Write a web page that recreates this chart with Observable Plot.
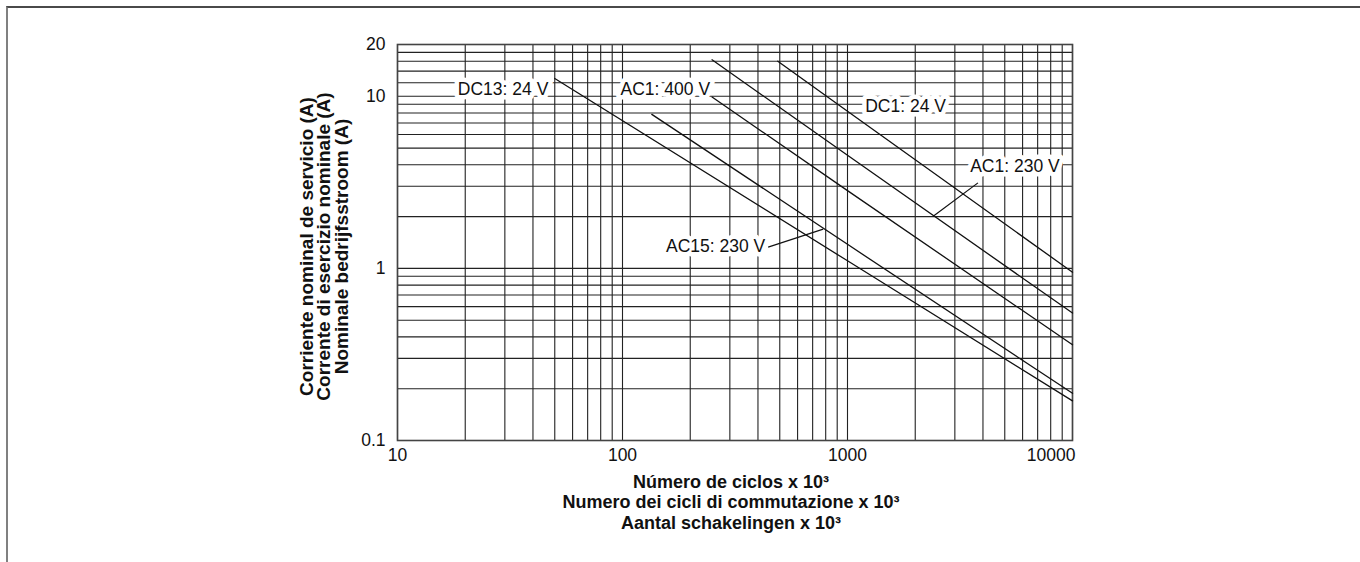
<!DOCTYPE html>
<html><head><meta charset="utf-8">
<script src="https://cdn.jsdelivr.net/npm/d3@7"></script>
<script src="https://cdn.jsdelivr.net/npm/@observablehq/plot@0.6"></script>
<style>
html,body{margin:0;padding:0;background:#fff;}
#wrap{position:relative;width:1360px;height:562px;overflow:hidden;}
#frame{position:absolute;left:6px;top:6px;right:-4px;bottom:-4px;border-top:2px solid #4a4a4a;border-left:2px solid #808080;}
#chart{position:absolute;left:0;top:0;}
g[aria-label="ytitle"] text{letter-spacing:1.3px;}
</style></head><body>
<div id="wrap"><div id="frame"></div><div id="chart"></div></div>
<script>
// Series (cycles x10^3 vs current A)
const seriesNames = ["DC13: 24 V", "AC15: 230 V", "AC1: 400 V", "AC1: 230 V", "DC1: 24 V"];
const seriesCycles = [[50, 1000, 10000], [135, 1000, 10000], [250, 1000, 10000], [250, 1000, 10000], [490, 1000, 10000]];
const seriesCurrent = [[12.7, 1.107, 0.17], [7.85, 1.38, 0.188], [9.9, 2.83, 0.36], [16.3, 4.54, 0.55], [16.0, 8.18, 0.95]];

// Annotation labels
const labelTexts = ["DC13: 24 V", "AC1: 400 V", "DC1: 24 V", "AC1: 230 V", "AC15: 230 V"];
const labelCycles = [46.8, 245, 1199, 3510, 431];
const labelCurrent = [10.9, 10.9, 8.7, 3.9, 1.35];
const labelAnchor = ["end", "end", "start", "start", "end"];

// Leader lines
const leaderFromCycles = [3800, 444];
const leaderFromCurrent = [3.14, 1.33];
const leaderToCycles = [2404, 780];
const leaderToCurrent = [2.01, 1.69];

// Axis ticks and grid
const xTickLabels = [10, 100, 1000];
const xTickLast = [10000];
const yTickLabels = [0.1, 1, 10, 20];
const xGrid = [10,20,30,40,50,60,70,80,90,100,200,300,400,500,600,700,800,900,1000,2000,3000,4000,5000,6000,7000,8000,9000,10000];
const yGrid = [0.1,0.2,0.3,0.4,0.5,0.6,0.7,0.8,0.9,1,2,3,4,5,6,7,8,9,10,12,14,16,18,20];

const xTitleLines = ["Número de ciclos x 10³", "Numero dei cicli di commutazione x 10³", "Aantal schakelingen x 10³"];
const yTitleLines = ["Corriente nominal de servicio (A)", "Corrente di esercizio nominale (A)", "Nominale bedrijfsstroom (A)"];

const lineData = seriesNames.flatMap((name, i) => seriesCycles[i].map((c, j) => ({name, c, a: seriesCurrent[i][j]})));
const labelData = labelTexts.map((t, i) => ({t, c: labelCycles[i], a: labelCurrent[i], anchor: labelAnchor[i]}));
const leaderData = leaderFromCycles.map((c, i) => ({c1: c, a1: leaderFromCurrent[i], c2: leaderToCycles[i], a2: leaderToCurrent[i]}));

const font = "'Liberation Sans', Arial, Helvetica, sans-serif";
const labelStyle = {fontSize: 17.5, fill: "#111", stroke: "white", strokeWidth: 9, strokeLinejoin: "round", paintOrder: "stroke"};
const chart = Plot.plot({
  width: 1360, height: 562,
  marginLeft: 397, marginRight: 288, marginTop: 44, marginBottom: 122,
  style: {fontFamily: font, background: "transparent", color: "#111"},
  x: {type: "log", domain: [10, 10000]},
  y: {type: "log", domain: [0.1, 20]},
  marks: [
    Plot.gridX(xGrid, {stroke: "#222", strokeOpacity: 1, strokeWidth: 1.1}),
    Plot.gridY(yGrid, {stroke: "#222", strokeOpacity: 1, strokeWidth: 1.1}),
    Plot.frame({stroke: "#444", strokeWidth: 1.6}),
    Plot.line(lineData, {x: "c", y: "a", z: "name", stroke: "#111", strokeWidth: 1.3}),
    Plot.link(leaderData, {x1: "c1", y1: "a1", x2: "c2", y2: "a2", stroke: "#111", strokeWidth: 1.2}),
    Plot.text(labelData.filter(d => d.anchor === "end"), {x: "c", y: "a", text: "t", textAnchor: "end", ...labelStyle}),
    Plot.text(labelData.filter(d => d.anchor === "start"), {x: "c", y: "a", text: "t", textAnchor: "start", ...labelStyle}),
    Plot.axisX(xTickLabels, {tickSize: 0, tickPadding: 8, fontSize: 17.5, label: null, tickFormat: d => String(d)}),
    Plot.axisX(xTickLast, {tickSize: 0, tickPadding: 8, fontSize: 17.5, label: null, textAnchor: "end", dx: 3, tickFormat: d => String(d)}),
    Plot.axisY(yTickLabels, {tickSize: 0, tickPadding: 12, fontSize: 17.5, label: null, tickFormat: d => String(d)}),
    Plot.text([xTitleLines.join("\n")], {frameAnchor: "bottom", lineAnchor: "middle", dy: 61, dx: -4, fontSize: 18, fontWeight: "bold", lineHeight: 20.5 / 18, fill: "#111"}),
    Plot.text([yTitleLines.join("\n")], {frameAnchor: "left", textAnchor: "middle", rotate: -90, lineAnchor: "middle", dx: -73, dy: 4, fontSize: 19, fontWeight: "bold", lineHeight: 0.92, fill: "#111", ariaLabel: "ytitle"})
  ]
});
document.getElementById("chart").appendChild(chart);
</script>
</body></html>
